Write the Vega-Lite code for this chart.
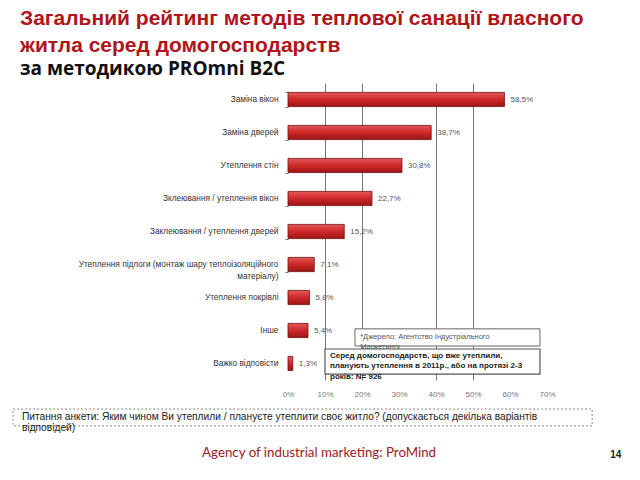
{
  "$schema": "https://vega.github.io/schema/vega-lite/v6.json",
  "autosize": "none",
  "width": 259,
  "height": 297,
  "padding": {"left": 288, "top": 83, "right": 93, "bottom": 100},
  "background": "white",
  "config": {
    "view": {"stroke": null},
    "axisX": {
      "labelOverlap": false,
      "labelBound": false,
      "labelFlush": false,
      "tickCount": 8,
      "domain": false,
      "ticks": false,
      "grid": true,
      "gridColor": "#777777",
      "labelFont": "Liberation Sans",
      "labelFontSize": 8,
      "labelColor": "#777777",
      "labelPadding": 10
    }
  },
  "title": {
    "text": ["Загальний рейтинг методів теплової санації власного", "житла серед домогосподарств"],
    "subtitle": "за методикою PROmni B2C",
    "anchor": "start",
    "frame": "group",
    "dx": -268,
    "dy": 7,
    "offset": 6,
    "font": "Liberation Sans",
    "fontSize": 21,
    "fontWeight": "bold",
    "color": "#b2141c",
    "lineHeight": 27,
    "subtitleFont": "Open Sans",
    "subtitleFontSize": 19,
    "subtitleFontWeight": "bold",
    "subtitleColor": "#111111",
    "subtitlePadding": 4
  },
  "layer": [
    {
      "data": {
        "values": [
          {"method": "Заміна вікон", "value": 58.5},
          {"method": "Заміна дверей", "value": 38.7},
          {"method": "Утеплення стін", "value": 30.8},
          {"method": "Зклеювання / утеплення вікон", "value": 22.7},
          {"method": "Заклеювання / утеплення дверей", "value": 15.2},
          {"method": "Утеплення підлоги (монтаж шару теплоізоляційного матеріалу)", "value": 7.1},
          {"method": "Утеплення покрівлі", "value": 5.8},
          {"method": "Інше", "value": 5.4},
          {"method": "Важко відповісти", "value": 1.3}
        ]
      },
      "encoding": {
        "y": {
          "field": "method",
          "type": "nominal",
          "sort": null,
          "title": null,
          "scale": {"paddingInner": 0.57, "paddingOuter": 0.285},
          "axis": {
            "domain": false,
            "ticks": true,
            "tickSize": 3,
            "tickColor": "#777777",
            "tickBand": "extent",
            "tickOpacity": {"condition": {"test": "datum.value == 'Утеплення покрівлі' || datum.value == 'Інше' || datum.value == 'Важко відповісти'", "value": 0}, "value": 1},
            "labelFont": "Liberation Sans",
            "labelFontSize": 8.3,
            "labelColor": "#333333",
            "labelPadding": 7,
            "labelLimit": 400,
            "labelLineHeight": 12,
            "labelExpr": "datum.value == 'Утеплення підлоги (монтаж шару теплоізоляційного матеріалу)' ? ['Утеплення підлоги (монтаж шару теплоізоляційного', 'матеріалу)'] : datum.value"
          }
        },
        "x": {
          "field": "value",
          "type": "quantitative",
          "title": null,
          "scale": {"domain": [0, 70], "nice": false},
          "axis": {
            "values": [0, 10, 20, 30, 40, 50, 60, 70],
            "labelExpr": "datum.value + '%'",
            "labelOverlap": false,
            "gridOpacity": {"condition": {"test": "datum.value == 0 || datum.value == 30 || datum.value == 60 || datum.value == 70", "value": 0}, "value": 1}
          }
        }
      },
      "layer": [
        {
          "mark": {
            "type": "bar",
            "color": {"gradient": "linear", "x1": 0, "y1": 0, "x2": 0, "y2": 1, "stops": [{"offset": 0, "color": "#e45a5a"}, {"offset": 0.45, "color": "#d02b2b"}, {"offset": 1, "color": "#9e1414"}]},
            "stroke": "#6e1010",
            "strokeWidth": 0.8
          }
        },
        {
          "mark": {
            "type": "text",
            "align": "left",
            "baseline": "middle",
            "dx": 6,
            "font": "Liberation Sans",
            "fontSize": 8,
            "color": "#555555",
            "text": {"expr": "replace(format(datum.value, '.1f'), '.', ',') + '%'"}
          }
        }
      ]
    },
    {
      "data": {"values": [{}]},
      "layer": [
        {
          "mark": {"type": "rect", "fill": "white", "stroke": "#666666", "strokeWidth": 1},
          "encoding": {
            "x": {"datum": 18.1, "type": "quantitative", "title": null, "scale": {"domain": [0, 70], "nice": false}},
            "x2": {"datum": 68.1},
            "y": {"datum": 7.45, "type": "quantitative", "axis": null, "scale": {"domain": [0, 9], "reverse": true, "nice": false, "zero": false}},
            "y2": {"datum": 7.97}
          }
        },
        {
          "mark": {"type": "text", "align": "left", "baseline": "middle", "font": "Liberation Sans", "fontSize": 7.5, "color": "#555555", "lineHeight": 9.5, "text": ["*Джерело: Агентство Індустріального", "Маркетингу"]},
          "encoding": {
            "x": {"datum": 19.5, "type": "quantitative", "title": null, "scale": {"domain": [0, 70], "nice": false}},
            "y": {"datum": 7.7, "type": "quantitative", "axis": null, "scale": {"domain": [0, 9], "reverse": true, "nice": false, "zero": false}}
          }
        },
        {
          "mark": {"type": "rect", "fill": "white", "stroke": "#555555", "strokeWidth": 1.2},
          "encoding": {
            "x": {"datum": 10, "type": "quantitative", "title": null, "scale": {"domain": [0, 70], "nice": false}},
            "x2": {"datum": 68.1},
            "y": {"datum": 8.06, "type": "quantitative", "axis": null, "scale": {"domain": [0, 9], "reverse": true, "nice": false, "zero": false}},
            "y2": {"datum": 8.82}
          }
        },
        {
          "mark": {"type": "text", "align": "left", "baseline": "middle", "font": "Liberation Sans", "fontSize": 8, "fontWeight": "bold", "color": "#222222", "lineHeight": 10.5, "text": ["Серед домогосподарств, що вже утеплили,", "планують утеплення в 2011р., або на протязі 2-3", "років: N= 926"]},
          "encoding": {
            "x": {"datum": 11.35, "type": "quantitative", "title": null, "scale": {"domain": [0, 70], "nice": false}},
            "y": {"datum": 8.27, "type": "quantitative", "axis": null, "scale": {"domain": [0, 9], "reverse": true, "nice": false, "zero": false}}
          }
        },
        {
          "mark": {"type": "rect", "filled": false, "stroke": "#888888", "strokeWidth": 1, "strokeDash": [2, 2]},
          "encoding": {
            "x": {"datum": -74.3, "type": "quantitative", "title": null, "scale": {"domain": [0, 70], "nice": false}},
            "x2": {"datum": 82.2},
            "y": {"datum": 9.88, "type": "quantitative", "axis": null, "scale": {"domain": [0, 9], "reverse": true, "nice": false, "zero": false}},
            "y2": {"datum": 10.39}
          }
        },
        {
          "mark": {"type": "text", "align": "left", "baseline": "middle", "font": "Liberation Sans", "fontSize": 10.2, "color": "#222222", "lineHeight": 11, "text": ["Питання анкети: Яким чином Ви утеплили / плануєте утеплити своє житло? (допускається декілька варіантів", "відповідей)"]},
          "encoding": {
            "x": {"datum": -71.9, "type": "quantitative", "title": null, "scale": {"domain": [0, 70], "nice": false}},
            "y": {"datum": 10.12, "type": "quantitative", "axis": null, "scale": {"domain": [0, 9], "reverse": true, "nice": false, "zero": false}}
          }
        },
        {
          "mark": {"type": "text", "align": "center", "baseline": "middle", "font": "Lato", "fontSize": 13.3, "color": "#9b1b1e", "text": "Agency of industrial marketing: ProMind"},
          "encoding": {
            "x": {"datum": 8.4, "type": "quantitative", "title": null, "scale": {"domain": [0, 70], "nice": false}},
            "y": {"datum": 11.21, "type": "quantitative", "axis": null, "scale": {"domain": [0, 9], "reverse": true, "nice": false, "zero": false}}
          }
        },
        {
          "mark": {"type": "text", "align": "center", "baseline": "middle", "font": "Liberation Sans", "fontSize": 10, "fontWeight": "bold", "color": "#222222", "text": "14"},
          "encoding": {
            "x": {"datum": 88.6, "type": "quantitative", "title": null, "scale": {"domain": [0, 70], "nice": false}},
            "y": {"datum": 11.27, "type": "quantitative", "axis": null, "scale": {"domain": [0, 9], "reverse": true, "nice": false, "zero": false}}
          }
        }
      ]
    }
  ],
  "resolve": {"scale": {"y": "independent"}}
}
